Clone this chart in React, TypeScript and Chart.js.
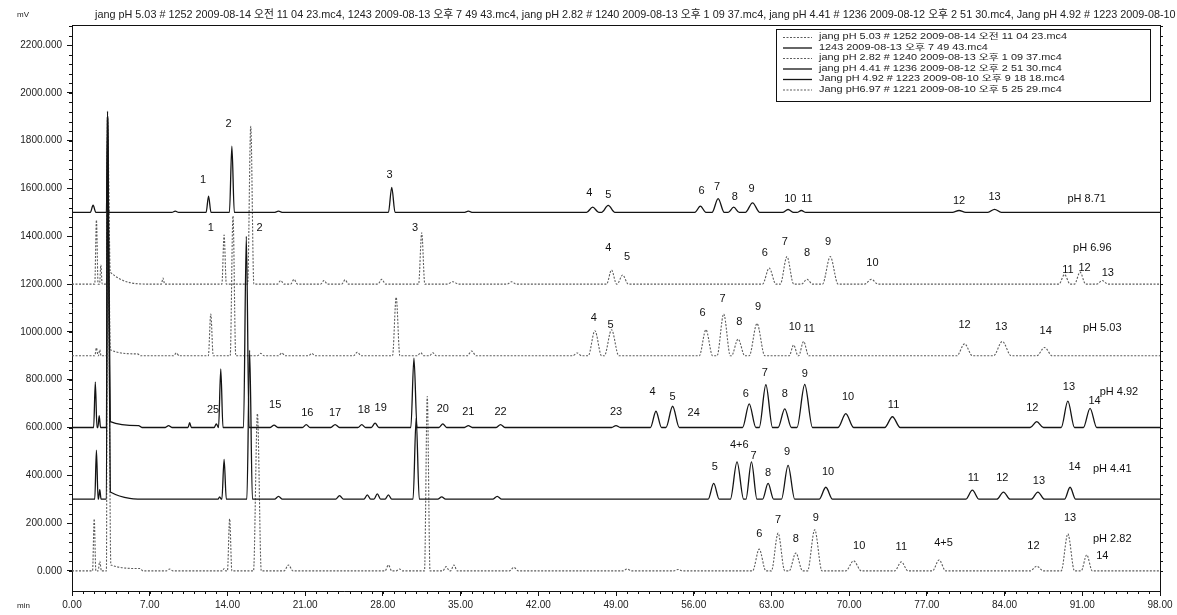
import React, { useEffect, useRef } from 'react';
import { Chart, registerables } from 'chart.js';

Chart.register(...registerables);

// Axis ranges (minutes / mV)
const X_MIN = 0;
const X_MAX = 98;
const Y_MIN = -84;
const Y_MAX = 2284;
const X_TICKS = [0, 7, 14, 21, 28, 35, 42, 49, 56, 63, 70, 77, 84, 91, 98];
const Y_TICKS = [0, 200, 400, 600, 800, 1000, 1200, 1400, 1600, 1800, 2000, 2200];

const FONT = '"Liberation Sans", "Noto Sans CJK KR", sans-serif';

// Peak tables: [retention time (min), height above baseline (mV), half width] or
// [time, height, left half width, right half width]
type Peak = number[];
type PeakLabel = [string, number, number]; // text, time, mV

const BASE_871 = 1500;
const PEAKS_871: Peak[] = [
  [1.9, 30, 0.25], [3.2, 424, 0.1], [9.3, 5, 0.3], [12.3, 68, 0.22], [14.4, 277, 0.22],
  [18.6, 5, 0.4], [28.8, 105, 0.3], [35.7, 5, 0.4], [46.9, 22, 0.55], [48.3, 29, 0.6],
  [56.6, 26, 0.5], [58.2, 58, 0.55], [59.6, 22, 0.5], [61.3, 40, 0.65], [64.5, 12, 0.5],
  [65.7, 8, 0.4], [79.9, 8, 0.6], [83.1, 13, 0.6],
];
const LABELS_871: PeakLabel[] = [
  ['1', 11.8, 1636], ['2', 14.1, 1870], ['3', 28.6, 1657], ['4', 46.6, 1582], ['5', 48.3, 1573],
  ['6', 56.7, 1590], ['7', 58.1, 1607], ['8', 59.7, 1565], ['9', 61.2, 1598], ['10', 64.7, 1556],
  ['11', 66.2, 1556], ['12', 79.9, 1548], ['13', 83.1, 1565], ['pH 8.71', 91.4, 1556],
];

const BASE_696 = 1200;
const PEAKS_696: Peak[] = [
  [2.2, 268, 0.15], [2.6, 80, 0.12], [3.2, 700, 0.1], [3.45, 50, 0.3, 3.5], [8.2, 25, 0.15],
  [13.7, 205, 0.2], [16.1, 660, 0.28], [18.8, 15, 0.3], [20.0, 20, 0.3], [22.7, 15, 0.3],
  [24.6, 18, 0.3], [27.9, 20, 0.35], [31.5, 215, 0.28], [34.3, 10, 0.5], [39.6, 10, 0.4],
  [48.6, 59, 0.45], [49.6, 38, 0.5], [62.8, 67, 0.6], [64.4, 115, 0.6], [66.2, 20, 0.5],
  [68.3, 115, 0.7], [72.0, 20, 0.6], [89.4, 40, 0.5], [90.8, 50, 0.5], [92.8, 15, 0.5],
];
const LABELS_696: PeakLabel[] = [
  ['1', 12.5, 1435], ['2', 16.9, 1435], ['3', 30.9, 1435], ['4', 48.3, 1351], ['5', 50.0, 1314],
  ['6', 62.4, 1330], ['7', 64.2, 1377], ['8', 66.2, 1330], ['9', 68.1, 1377], ['10', 72.1, 1289],
  ['11', 89.7, 1259], ['12', 91.2, 1268], ['13', 93.3, 1247], ['pH 6.96', 91.9, 1351],
];

const BASE_503 = 900;
const PEAKS_503: Peak[] = [
  [2.2, 33, 0.15], [2.5, 25, 0.12], [3.2, 1000, 0.1], [3.45, 25, 0.3, 3], [5.9, 8, 0.3],
  [9.4, 12, 0.25], [12.5, 175, 0.22], [14.5, 585, 0.25], [17.0, 10, 0.3], [18.9, 12, 0.3],
  [21.6, 10, 0.3], [25.7, 15, 0.35], [29.2, 245, 0.33], [31.4, 13, 0.3], [32.5, 13, 0.3],
  [36.0, 20, 0.4], [45.5, 12, 0.4], [47.1, 105, 0.6], [48.6, 109, 0.65], [57.1, 109, 0.6],
  [58.7, 175, 0.6], [60.0, 70, 0.6], [61.7, 135, 0.7], [65.0, 45, 0.4], [65.9, 60, 0.45],
  [80.4, 50, 0.7], [83.8, 60, 0.8], [87.6, 35, 0.7],
];
const LABELS_503: PeakLabel[] = [
  ['4', 47.0, 1059], ['5', 48.5, 1029], ['6', 56.8, 1079], ['7', 58.6, 1138], ['8', 60.1, 1042],
  ['9', 61.8, 1105], ['10', 65.1, 1021], ['11', 66.4, 1012], ['12', 80.4, 1029], ['13', 83.7, 1021],
  ['14', 87.7, 1004], ['pH 5.03', 92.8, 1017],
];

const BASE_492 = 600;
const PEAKS_492: Peak[] = [
  [2.1, 190, 0.15], [2.45, 50, 0.12], [3.2, 1300, 0.1], [3.45, 25, 0.3, 3.5], [6.0, 8, 0.3],
  [8.7, 8, 0.3], [10.6, 20, 0.15], [13.0, 15, 0.2], [13.4, 245, 0.2], [15.7, 800, 0.25],
  [18.2, 10, 0.35], [21.1, 12, 0.35], [23.7, 12, 0.4], [26.1, 12, 0.35], [27.3, 18, 0.35],
  [30.8, 290, 0.28], [33.4, 15, 0.35], [35.7, 8, 0.35], [38.6, 12, 0.4], [49.0, 8, 0.4],
  [52.6, 68, 0.5], [54.1, 89, 0.6], [61.0, 99, 0.6], [62.5, 179, 0.6], [64.2, 78, 0.6],
  [66.0, 180, 0.7], [69.7, 58, 0.7], [73.9, 45, 0.7], [86.9, 25, 0.6], [89.7, 110, 0.6],
  [91.7, 80, 0.6],
];
const LABELS_492: PeakLabel[] = [
  ['25', 12.7, 674], ['15', 18.3, 695], ['16', 21.2, 661], ['17', 23.7, 661], ['18', 26.3, 674],
  ['19', 27.8, 682], ['20', 33.4, 678], ['21', 35.7, 665], ['22', 38.6, 665], ['23', 49.0, 665],
  ['4', 52.3, 749], ['5', 54.1, 728], ['24', 56.0, 661], ['6', 60.7, 741], ['7', 62.4, 828],
  ['8', 64.2, 741], ['9', 66.0, 824], ['10', 69.9, 728], ['11', 74.0, 695], ['12', 86.5, 682],
  ['13', 89.8, 770], ['14', 92.1, 711], ['pH 4.92', 94.3, 749],
];

const BASE_441 = 300;
const PEAKS_441: Peak[] = [
  [2.2, 205, 0.15], [2.5, 40, 0.12], [3.2, 1600, 0.1], [3.45, 30, 0.3, 3.5], [13.3, 10, 0.15],
  [13.7, 167, 0.2], [16.0, 623, 0.25], [18.6, 12, 0.35], [24.1, 15, 0.35], [26.6, 18, 0.3],
  [27.5, 22, 0.3], [28.5, 18, 0.3], [31.0, 340, 0.28], [33.3, 10, 0.35], [38.3, 12, 0.4],
  [57.8, 66, 0.5], [59.9, 156, 0.6], [61.2, 156, 0.5], [62.7, 66, 0.5], [64.5, 142, 0.6],
  [67.9, 50, 0.6], [81.1, 38, 0.6], [83.9, 30, 0.6], [87.0, 30, 0.6], [89.9, 50, 0.5],
];
const LABELS_441: PeakLabel[] = [
  ['5', 57.9, 435], ['4+6', 60.1, 527], ['7', 61.4, 481], ['8', 62.7, 410], ['9', 64.4, 498],
  ['10', 68.1, 414], ['11', 81.2, 389], ['12', 83.8, 389], ['13', 87.1, 377], ['14', 90.3, 435],
  ['pH 4.41', 93.7, 427],
];

const BASE_282 = 0;
const PEAKS_282: Peak[] = [
  [2.0, 218, 0.15], [2.5, 40, 0.15], [3.2, 1900, 0.1], [3.5, 25, 0.3, 4], [6.1, 10, 0.3],
  [8.8, 8, 0.3], [13.7, 10, 0.15], [14.2, 218, 0.2], [16.7, 658, 0.35], [19.5, 25, 0.4],
  [28.5, 25, 0.3], [29.5, 8, 0.3], [32.0, 730, 0.25], [33.7, 18, 0.3], [34.4, 25, 0.3],
  [39.8, 15, 0.4], [50.0, 8, 0.4], [54.6, 6, 0.4], [61.9, 91, 0.6], [63.6, 158, 0.6],
  [65.2, 75, 0.6], [66.9, 172, 0.65], [70.4, 42, 0.7], [74.7, 38, 0.6], [78.1, 46, 0.6],
  [86.9, 20, 0.6], [89.7, 155, 0.6], [91.4, 67, 0.5],
];
const LABELS_282: PeakLabel[] = [
  ['6', 61.9, 155], ['7', 63.6, 213], ['8', 65.2, 134], ['9', 67.0, 222], ['10', 70.9, 105],
  ['11', 74.7, 100], ['4+5', 78.5, 117], ['12', 86.6, 105], ['13', 89.9, 222], ['14', 92.8, 63],
  ['pH 2.82', 93.7, 134],
];

// File names, in legend order
const LEGEND_NAMES = [
  'jang pH 5.03 # 1252 2009-08-14 오전 11 04 23.mc4',
  '1243 2009-08-13 오후 7 49 43.mc4',
  'jang pH 2.82 # 1240 2009-08-13 오후 1 09 37.mc4',
  'jang pH 4.41 # 1236 2009-08-12 오후 2 51 30.mc4',
  'Jang pH 4.92 # 1223 2009-08-10 오후 9 18 18.mc4',
  'Jang pH6.97 # 1221 2009-08-10 오후 5 25 29.mc4',
];

const TITLE = LEGEND_NAMES.join(', ');
const TITLE_VISIBLE = LEGEND_NAMES.slice(0, 4).join(', ') + ', Jang pH 4.92 # 1223 2009-08-10';

const SOLID = { color: '#141414', width: 1.3, dash: [] as number[] };
const DOTTED = { color: '#5c5c5c', width: 1.1, dash: [2, 1.5] };

// Datasets in legend order
const TRACES = [
  { name: LEGEND_NAMES[0], base: BASE_503, peaks: PEAKS_503, labels: LABELS_503, style: DOTTED },
  { name: LEGEND_NAMES[1], base: BASE_871, peaks: PEAKS_871, labels: LABELS_871, style: SOLID },
  { name: LEGEND_NAMES[2], base: BASE_282, peaks: PEAKS_282, labels: LABELS_282, style: DOTTED },
  { name: LEGEND_NAMES[3], base: BASE_441, peaks: PEAKS_441, labels: LABELS_441, style: SOLID },
  { name: LEGEND_NAMES[4], base: BASE_492, peaks: PEAKS_492, labels: LABELS_492, style: SOLID },
  { name: LEGEND_NAMES[5], base: BASE_696, peaks: PEAKS_696, labels: LABELS_696, style: DOTTED },
];

// Baseline -> peak start -> apex -> peak end vertices for one chromatogram
function tracePoints(base: number, peaks: Peak[]) {
  const pts: { x: number; y: number }[] = [{ x: X_MIN, y: base }];
  for (const p of peaks) {
    const t = p[0];
    const h = p[1];
    const wl = p[2];
    const wr = p.length > 3 ? p[3] : p[2];
    const left = t - wl;
    const last = pts[pts.length - 1];
    if (pts.length > 1 && left <= last.x) {
      pts.pop();
    } else {
      pts.push({ x: left, y: base });
    }
    pts.push({ x: t, y: base + h });
    pts.push({ x: t + wr, y: base });
  }
  pts.push({ x: X_MAX, y: base });
  return pts;
}

function fitFont(ctx: CanvasRenderingContext2D, text: string, width: number) {
  ctx.font = `10px ${FONT}`;
  const w = ctx.measureText(text).width;
  return `${((10 * width) / w).toFixed(2)}px ${FONT}`;
}

const decorPlugin = {
  id: 'decor',
  afterDraw(chart: any) {
    const ctx: CanvasRenderingContext2D = chart.ctx;
    const a = chart.chartArea;
    const xs = chart.scales.x;
    const ys = chart.scales.y;
    ctx.save();

    // frame: top and right edges
    ctx.strokeStyle = '#111';
    ctx.lineWidth = 1;
    ctx.setLineDash([]);
    ctx.beginPath();
    ctx.moveTo(a.left, a.top + 0.5);
    ctx.lineTo(a.right, a.top + 0.5);
    ctx.moveTo(a.right + 0.5, a.top);
    ctx.lineTo(a.right + 0.5, a.bottom);
    ctx.stroke();

    // minor ticks
    ctx.beginPath();
    for (let t = X_MIN; t <= X_MAX; t += 1) {
      const px = Math.round(xs.getPixelForValue(t)) + 0.5;
      ctx.moveTo(px, a.bottom);
      ctx.lineTo(px, a.bottom + 3);
    }
    for (let v = 0; v <= Y_MAX; v += 40) {
      const py = Math.round(ys.getPixelForValue(v)) + 0.5;
      ctx.moveTo(a.left - 3, py);
      ctx.lineTo(a.left, py);
      ctx.moveTo(a.right, py);
      ctx.lineTo(a.right + 3, py);
    }
    ctx.stroke();

    // unit captions
    ctx.fillStyle = '#222';
    ctx.font = `8px ${FONT}`;
    ctx.textBaseline = 'middle';
    ctx.textAlign = 'left';
    ctx.fillText('mV', 17, 15);
    ctx.fillText('min', 17, 606);

    // file-name header, running off the right edge
    ctx.font = fitFont(ctx, TITLE_VISIBLE, 1082);
    ctx.fillText(TITLE, 95, 15);

    // peak numbers
    ctx.fillStyle = '#111';
    ctx.font = `11px ${FONT}`;
    ctx.textAlign = 'center';
    for (const tr of TRACES) {
      for (const [text, t, v] of tr.labels) {
        ctx.fillText(text, xs.getPixelForValue(t), ys.getPixelForValue(v));
      }
    }

    // legend box
    const bx = 776;
    const by = 29;
    const bw = 374;
    const bh = 72;
    ctx.fillStyle = '#fff';
    ctx.fillRect(bx, by, bw, bh);
    ctx.strokeStyle = '#111';
    ctx.lineWidth = 1;
    ctx.strokeRect(bx + 0.5, by + 0.5, bw, bh);
    ctx.textAlign = 'left';
    ctx.font = `8.5px ${FONT}`;
    const stretch = 248 / ctx.measureText(LEGEND_NAMES[0]).width;
    TRACES.forEach((tr, i) => {
      const y = by + 8 + i * 10.5;
      ctx.strokeStyle = tr.style.color;
      ctx.lineWidth = tr.style.width;
      ctx.setLineDash(tr.style.dash);
      ctx.beginPath();
      ctx.moveTo(783, y + 0.5);
      ctx.lineTo(812, y + 0.5);
      ctx.stroke();
      ctx.setLineDash([]);
      ctx.fillStyle = '#222';
      ctx.save();
      ctx.translate(819, y);
      ctx.scale(stretch, 1);
      ctx.fillText(tr.name, 0, 0);
      ctx.restore();
    });

    ctx.restore();
  },
};

export default function App() {
  const canvasRef = useRef<HTMLCanvasElement | null>(null);

  useEffect(() => {
    const canvas = canvasRef.current;
    if (!canvas) return;
    const chart = new Chart(canvas, {
      type: 'line',
      data: {
        datasets: TRACES.map((tr) => ({
          label: tr.name,
          data: tracePoints(tr.base, tr.peaks),
          borderColor: tr.style.color,
          borderWidth: tr.style.width,
          borderDash: tr.style.dash,
          pointRadius: 0,
          fill: false,
          cubicInterpolationMode: 'monotone' as const,
          order: tr.style === SOLID ? 0 : 1,
        })),
      },
      options: {
        animation: false,
        responsive: false,
        parsing: false as any,
        normalized: true,
        layout: { padding: { left: 0, right: 17, top: 25, bottom: 0 } },
        plugins: {
          legend: { display: false },
          tooltip: { enabled: false },
          title: { display: false },
        },
        scales: {
          x: {
            type: 'linear',
            min: X_MIN,
            max: X_MAX,
            afterFit: (s: any) => {
              s.height = 24;
            },
            afterBuildTicks: (s: any) => {
              s.ticks = X_TICKS.map((value) => ({ value }));
            },
            grid: { display: true, drawOnChartArea: false, drawTicks: true, tickLength: 5, color: '#111' },
            border: { display: true, color: '#111', width: 1 },
            ticks: {
              autoSkip: false,
              maxRotation: 0,
              padding: 3,
              color: '#222',
              font: { family: FONT, size: 10 },
              callback: (v: any) => Number(v).toFixed(2),
            },
          },
          y: {
            type: 'linear',
            min: Y_MIN,
            max: Y_MAX,
            afterFit: (s: any) => {
              s.width = 72;
            },
            afterBuildTicks: (s: any) => {
              s.ticks = Y_TICKS.map((value) => ({ value }));
            },
            grid: { display: true, drawOnChartArea: false, drawTicks: true, tickLength: 5, color: '#111' },
            border: { display: true, color: '#111', width: 1 },
            ticks: {
              autoSkip: false,
              padding: 5,
              color: '#222',
              font: { family: FONT, size: 10 },
              callback: (v: any) => Number(v).toFixed(3),
            },
          },
        },
      },
      plugins: [decorPlugin],
    });
    return () => chart.destroy();
  }, []);

  return (
    <div style={{ position: 'fixed', left: 0, top: 0, width: 1177, height: 615, background: '#fff' }}>
      <canvas ref={canvasRef} width={1177} height={615} style={{ display: 'block' }} />
    </div>
  );
}
